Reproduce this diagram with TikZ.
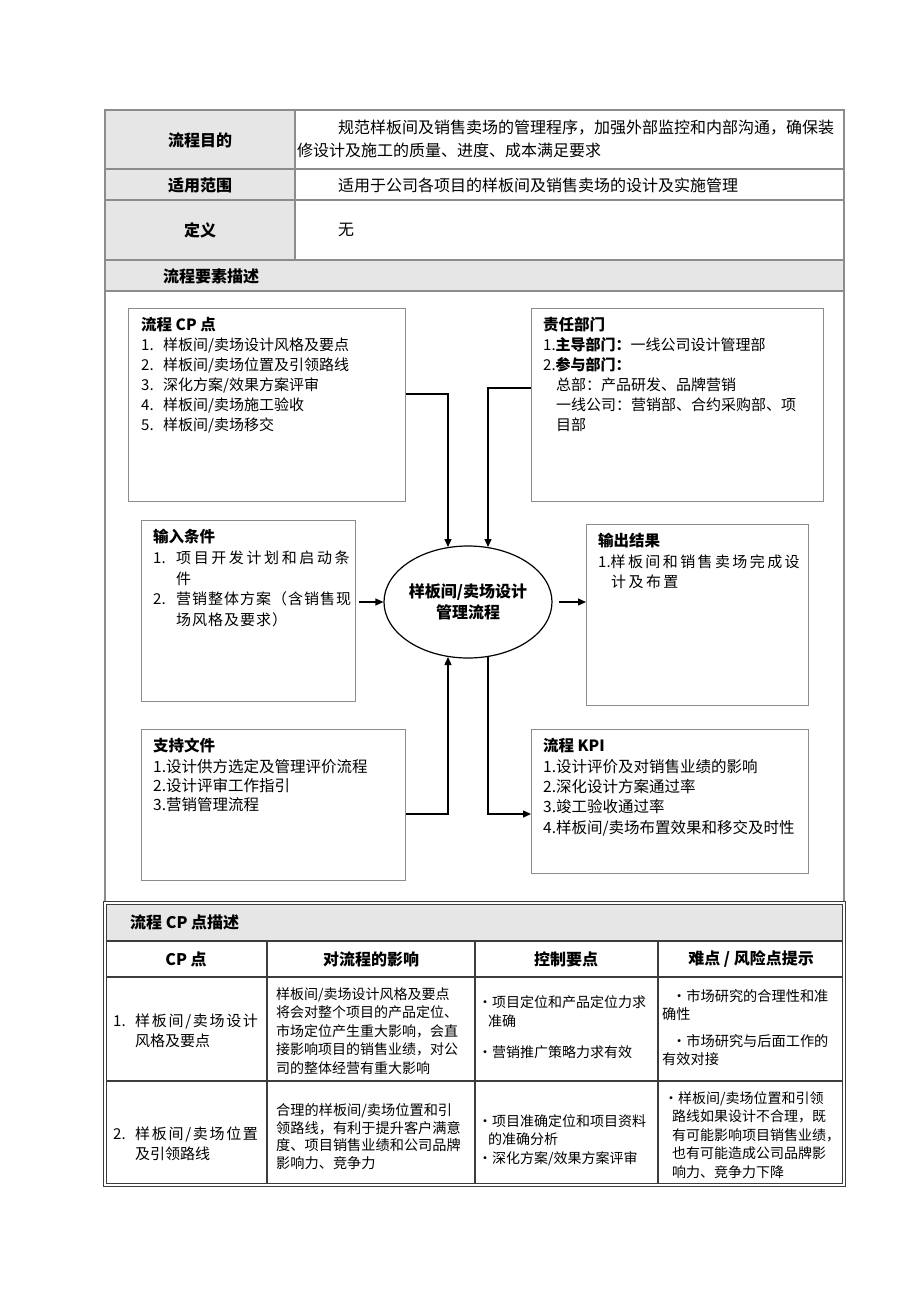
\documentclass[tikz,border=0pt]{standalone}
\usepackage{fontspec}
\setmainfont{Noto Sans CJK SC}
\usetikzlibrary{calc,shapes.geometric,arrows.meta}

\definecolor{cellfill}{RGB}{230,230,230}
\definecolor{rulegray}{RGB}{140,140,140}
\definecolor{ruledark}{RGB}{60,60,60}

% spread the characters of a line a little
\newcommand\trk[2]{\def\trkgap{#1}\trkloop#2\relax}
\def\trkloop#1{\ifx\relax#1\else#1\hskip\trkgap\relax\expandafter\trkloop\fi}

\tikzset{
  grid line/.style={draw=rulegray, line width=1.3pt},
  dark line/.style={draw=ruledark, line width=1.1pt},
  flowbox/.style={draw=rulegray, line width=1.1pt, anchor=north west, inner sep=0pt},
  boxtitle/.style={anchor=west, inner sep=0pt, font=\fontsize{15.5}{20}\bfseries},
  boxtext/.style={anchor=north west, inner sep=0pt, align=left, font=\fontsize{15}{20}\selectfont},
  celltext/.style={anchor=north west, inner sep=0pt, align=left, font=\fontsize{14}{18.5}\selectfont},
  arr/.style={-{Triangle[length=8pt,width=7pt]}, line width=1.3pt},
}

\begin{document}
\begin{tikzpicture}[x=1pt, y=-1pt]
\useasboundingbox (0,0) rectangle (920,1302);

% top table
\fill[cellfill] (105,110) rectangle (295,260);
\fill[cellfill] (105,260) rectangle (844,291);
\draw[grid line] (105,110) rectangle (844,903);
\foreach \y in {169,200,260,291} \draw[grid line] (105,\y) -- (844,\y);
\draw[grid line] (295,110) -- (295,260);

\node[boxtitle, anchor=center, font=\fontsize{16}{20}\bfseries] (purposehd) at (200,140) {流程目的};
\node[boxtitle, anchor=center, font=\fontsize{16}{20}\bfseries] (scopehd) at (200,185) {适用范围};
\node[boxtitle, anchor=center, font=\fontsize{16}{20}\bfseries] (defhd) at (200,230) {定义};
\node[boxtitle, font=\fontsize{16}{20}\bfseries] (elemhd) at (163,276) {流程要素描述};

\node[boxtext, font=\fontsize{16}{23}\selectfont] (purposetx) at (297,120)
  {\hspace*{41pt}规范样板间及销售卖场的管理程序，加强外部监控和内部沟通，确保装\\
   修设计及施工的质量、进度、成本满足要求};
\node[boxtext, anchor=west, font=\fontsize{16}{20}\selectfont] (scopetx) at (338,185)
  {适用于公司各项目的样板间及销售卖场的设计及实施管理};
\node[boxtext, anchor=west, font=\fontsize{16}{20}\selectfont] (deftx) at (338,230) {无};

% flow elements
\node[flowbox, minimum width=277, minimum height=193] (cpbox) at (128,308) {};
\node[flowbox, minimum width=292, minimum height=193] (dutybox) at (531,308) {};
\node[flowbox, minimum width=214, minimum height=181] (inbox) at (141,520) {};
\node[flowbox, minimum width=222, minimum height=181] (outbox) at (586,524) {};
\node[flowbox, minimum width=264, minimum height=151] (supbox) at (141,729) {};
\node[flowbox, minimum width=277, minimum height=144] (kpibox) at (531,729) {};

\node[ellipse, draw, line width=1.2pt, minimum width=168, minimum height=112, inner sep=0pt,
      align=center, font=\fontsize{16}{21}\bfseries] (proc) at (468,602)
  {样板间/卖场设计\\管理流程};

\node[boxtitle] (cptitle) at ($(cpbox.north west)+(13,17)$) {流程 CP 点};
\node[boxtext] (cplist) at ($(cpbox.north west)+(13,29.5)$)
  {\makebox[22pt][l]{1.}样板间/卖场设计风格及要点\\
   \makebox[22pt][l]{2.}样板间/卖场位置及引领路线\\
   \makebox[22pt][l]{3.}深化方案/效果方案评审\\
   \makebox[22pt][l]{4.}样板间/卖场施工验收\\
   \makebox[22pt][l]{5.}样板间/卖场移交};

\node[boxtitle] (dutytitle) at ($(dutybox.north west)+(12,17)$) {责任部门};
\node[boxtext] (dutylist) at ($(dutybox.north west)+(12,29.5)$)
  {1.\textbf{主导部门：}一线公司设计管理部\\
   2.\textbf{参与部门：}\\
   \hspace*{13pt}总部：产品研发、品牌营销\\
   \hspace*{13pt}一线公司：营销部、合约采购部、项\\
   \hspace*{13pt}目部};

\node[boxtitle] (intitle) at ($(inbox.north west)+(12,17)$) {输入条件};
\node[boxtext, font=\fontsize{15}{20.7}\selectfont] (inlist) at ($(inbox.north west)+(12,30.5)$)
  {\makebox[23pt][l]{1.}\trk{2.6pt}{项目开发计划和启动条}\\
   \hspace*{23pt}件\\
   \makebox[23pt][l]{2.}\trk{1pt}{营销整体方案（含销售现}\\
   \hspace*{23pt}\trk{1pt}{场风格及要求）}};

\node[boxtitle] (outtitle) at ($(outbox.north west)+(12,17)$) {输出结果};
\node[boxtext] (outlist) at ($(outbox.north west)+(12,30.5)$)
  {1.\trk{2.4pt}{样板间和销售卖场完成设}\\
   \hspace*{13pt}\trk{2.4pt}{计及布置}};

\node[boxtitle] (suptitle) at ($(supbox.north west)+(12,17)$) {支持文件};
\node[boxtext, font=\fontsize{15.5}{19}\selectfont] (suplist) at ($(supbox.north west)+(12,30)$)
  {1.设计供方选定及管理评价流程\\
   2.设计评审工作指引\\
   3.营销管理流程};

\node[boxtitle] (kpititle) at ($(kpibox.north west)+(12,17)$) {流程 KPI};
\node[boxtext, font=\fontsize{15.5}{20.3}\selectfont] (kpilist) at ($(kpibox.north west)+(12,30)$)
  {1.设计评价及对销售业绩的影响\\
   2.深化设计方案通过率\\
   3.竣工验收通过率\\
   4.样板间/卖场布置效果和移交及时性};

% connectors
\draw[arr] ($(cpbox.north east)+(0,86)$) -| (proc.110);
\draw[arr] ($(dutybox.north west)+(0,80)$) -| (proc.70);
\draw[arr, shorten <=3pt] (inbox.east |- proc.west) -- (proc.west);
\draw[arr, shorten <=6pt] (proc.east) -- (outbox.west |- proc.east);
\draw[arr] ($(supbox.north east)+(0,85)$) -| (proc.250);
\draw[arr] (proc.290) |- ($(kpibox.north west)+(0,85)$);

% CP point table
\fill[cellfill] (105,903) rectangle (844,941);
\foreach \y in {941,977,1081} \draw[dark line] (105,\y) -- (844,\y);
\foreach \x in {267,475,658} \draw[dark line] (\x,941) -- (\x,1185);
\draw[draw=ruledark, line width=0.9pt, double, double distance=1.5pt] (105,903) rectangle (844,1185);

\node[boxtitle, font=\fontsize{16}{20}\bfseries] (cpdeschd) at (130,922) {流程 CP 点描述};
\node[boxtitle, anchor=center, font=\fontsize{16}{20}\bfseries] (colcp) at (186,959) {CP 点};
\node[boxtitle, anchor=center, font=\fontsize{16}{20}\bfseries] (colimpact) at (371,959) {对流程的影响};
\node[boxtitle, anchor=center, font=\fontsize{16}{20}\bfseries] (colctrl) at (566,959) {控制要点};
\node[boxtitle, anchor=center, font=\fontsize{16}{20}\bfseries] (colrisk) at (751,959) {难点 / 风险点提示};

\node[boxtext] (cpone) at (113,1013.5)
  {\makebox[22pt][l]{1.}\trk{1.7pt}{样板间/卖场设计}\\
   \hspace*{22pt}风格及要点};
\node[celltext] (impactone) at (276,987)
  {样板间/卖场设计风格及要点\\
   将会对整个项目的产品定位、\\
   市场定位产生重大影响，会直\\
   接影响项目的销售业绩，对公\\
   司的整体经营有重大影响};
\node[celltext, font=\fontsize{14}{19}\selectfont] (ctrlone) at (478,995)
  {•项目定位和产品定位力求\\
   \hspace*{10pt}准确\\[12pt]
   •营销推广策略力求有效};
\node[celltext, font=\fontsize{14.2}{18.5}\selectfont] (riskone) at (662,989)
  {\hspace*{10pt}•市场研究的合理性和准\\
   确性\\[8pt]
   \hspace*{10pt}•市场研究与后面工作的\\
   有效对接};

\node[boxtext] (cptwo) at (113,1126.5)
  {\makebox[22pt][l]{2.}\trk{1.7pt}{样板间/卖场位置}\\
   \hspace*{22pt}及引领路线};
\node[celltext, font=\fontsize{14.2}{17.8}\selectfont] (impacttwo) at (276,1103)
  {合理的样板间/卖场位置和引\\
   领路线，有利于提升客户满意\\
   度、项目销售业绩和公司品牌\\
   影响力、竞争力};
\node[celltext, font=\fontsize{14}{18}\selectfont] (ctrltwo) at (478,1114)
  {•项目准确定位和项目资料\\
   \hspace*{10pt}的准确分析\\[1pt]
   •深化方案/效果方案评审};
\node[celltext, font=\fontsize{14}{18.5}\selectfont] (risktwo) at (664,1091)
  {•样板间/卖场位置和引领\\
   \hspace*{8pt}路线如果设计不合理，既\\
   \hspace*{8pt}有可能影响项目销售业绩，\\
   \hspace*{8pt}也有可能造成公司品牌影\\
   \hspace*{8pt}响力、竞争力下降};

\end{tikzpicture}
\end{document}
